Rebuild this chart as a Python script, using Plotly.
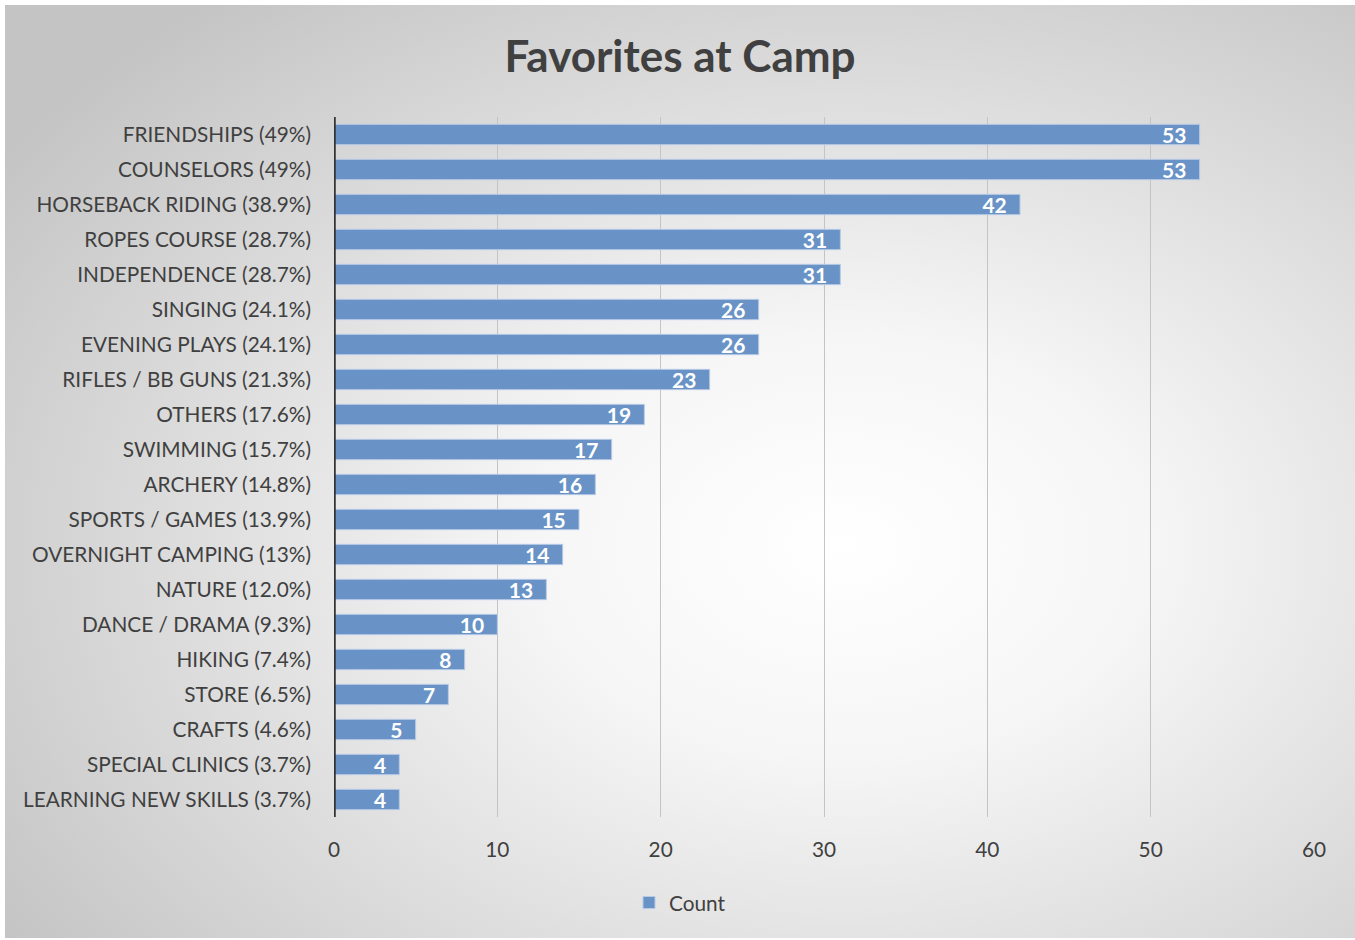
import base64
import plotly.graph_objects as go

categories = [
    "FRIENDSHIPS (49%)", "COUNSELORS (49%)", "HORSEBACK RIDING (38.9%)",
    "ROPES COURSE (28.7%)", "INDEPENDENCE (28.7%)", "SINGING (24.1%)",
    "EVENING PLAYS (24.1%)", "RIFLES / BB GUNS (21.3%)", "OTHERS (17.6%)",
    "SWIMMING (15.7%)", "ARCHERY (14.8%)", "SPORTS / GAMES (13.9%)",
    "OVERNIGHT CAMPING (13%)", "NATURE (12.0%)", "DANCE / DRAMA (9.3%)",
    "HIKING (7.4%)", "STORE (6.5%)", "CRAFTS (4.6%)",
    "SPECIAL CLINICS (3.7%)", "LEARNING NEW SKILLS (3.7%)",
]
counts = [53, 53, 42, 31, 31, 26, 26, 23, 19, 17, 16, 15, 14, 13, 10, 8, 7, 5, 4, 4]
x_ticks = [0, 10, 20, 30, 40, 50, 60]

FONT = "Lato, 'Open Sans', sans-serif"
TXT = "#404040"

svg = """<svg xmlns='http://www.w3.org/2000/svg' width='1350' height='935' viewBox='0 0 1350 935' preserveAspectRatio='none'>
<defs><radialGradient id='g' cx='0.62' cy='0.58' r='0.75' fx='0.62' fy='0.58'>
<stop offset='0' stop-color='#ffffff'/><stop offset='0.3' stop-color='#f6f6f6'/>
<stop offset='1' stop-color='#c4c4c4'/></radialGradient></defs>
<rect width='1350' height='935' fill='url(#g)'/></svg>"""
src = "data:image/svg+xml;base64," + base64.b64encode(svg.encode()).decode()

fig = go.Figure()
fig.add_trace(go.Bar(
    y=categories, x=counts, orientation="h", name="Count",
    marker=dict(color="#6993c6", line=dict(color="#b7cae6", width=1)),
    text=[f"{c}\u00a0\u00a0" for c in counts], textposition="inside", insidetextanchor="end",
    textangle=0, constraintext="none",
    textfont=dict(color="white", size=21, family=FONT, weight="bold"),
))

L, R, T, B = 334, 1314, 117, 817
W, H = 1355, 940
pw, ph = R - L, B - T
fig.add_layout_image(dict(
    source=src, xref="paper", yref="paper",
    x=(5 - L) / pw, y=(B - 5) / ph, sizex=1350 / pw, sizey=933 / ph,
    sizing="stretch", xanchor="left", yanchor="top", layer="below",
))

fig.update_layout(
    width=W, height=H,
    margin=dict(l=L, r=W - R, t=T, b=H - B, pad=0),
    paper_bgcolor="white", plot_bgcolor="rgba(0,0,0,0)",
    bargap=0.42,
    title=dict(text="<b>Favorites at Camp</b>", x=680 / W, xref="container", xanchor="center",
               y=1 - 57 / H, yref="container", yanchor="middle",
               font=dict(size=44, color=TXT, family=FONT)),
    font=dict(family=FONT, color=TXT, size=20.8),
    xaxis=dict(range=[0, 60], tickvals=x_ticks, showgrid=True, gridcolor="#c4c4c4", gridwidth=1,
               zeroline=False, showline=False, ticks="", tickfont=dict(size=20.8, color=TXT),
               ticklabelstandoff=18, fixedrange=True),
    yaxis=dict(autorange="reversed", showgrid=False, showline=False, ticks="",
               tickfont=dict(size=20.8, color=TXT), ticklabelstandoff=22),
    shapes=[dict(type="line", xref="x", yref="paper", x0=0, x1=0, y0=0, y1=1.0,
                 line=dict(color="#333333", width=3.5))],
    showlegend=True,
    legend=dict(orientation="h", xref="container", yref="container", x=680 / W, y=1 - 903 / H,
                xanchor="center", yanchor="middle", bgcolor="rgba(0,0,0,0)",
                font=dict(size=20.8, color=TXT), itemwidth=30),
)

fig.write_html("out.html", config={"displayModeBar": False},
               post_script="document.body.style.margin='0';document.body.style.overflow='hidden';")
